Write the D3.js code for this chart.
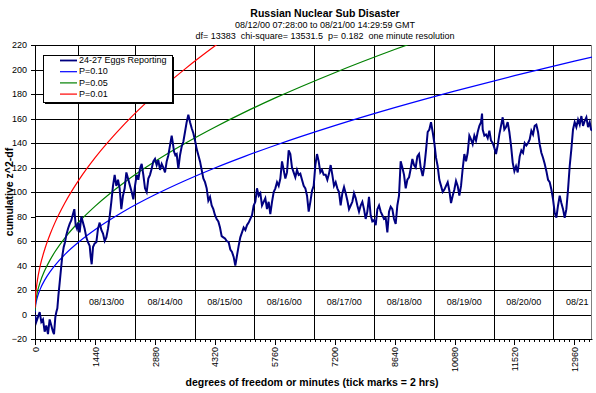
<!DOCTYPE html>
<meta charset="utf-8">

<head>
    <title>Russian Nuclear Sub Disaster</title>
</head>

<style>
    body { margin: 0; background: #fff; }
    text { font-family: "Liberation Sans", Arial, sans-serif; fill: #000; }
</style>

<body>
    <svg></svg>

    <script src="https://cdnjs.cloudflare.com/ajax/libs/d3/7.8.5/d3.min.js"></script>
    <script>

        // Data (minutes since 08/12/00 07:28 GMT, cumulative z^2 - df)
        var eggMinutes = [0, 32, 72, 112, 152, 192, 232, 272, 312, 352, 392, 432, 457, 489, 513, 537, 561, 593, 633, 657, 689, 721, 753, 793, 833, 873, 913, 945, 977, 1009, 1041, 1073, 1113, 1153, 1193, 1233, 1273, 1314, 1338, 1362, 1394, 1434, 1474, 1514, 1554, 1594, 1634, 1674, 1714, 1754, 1794, 1834, 1874, 1914, 1954, 1994, 2034, 2074, 2114, 2155, 2195, 2235,
            2283, 2323, 2363, 2403, 2443, 2483, 2523, 2563, 2603, 2643, 2683, 2723, 2763, 2803, 2843, 2883, 2923, 2963, 3004, 3044, 3084, 3124, 3164, 3204, 3244, 3284, 3308, 3340, 3372, 3404, 3444, 3484, 3524, 3564, 3604, 3644, 3684, 3725, 3765, 3805, 3845, 3885, 3925, 3965, 4005, 4045, 4085, 4125, 4165, 4205, 4245, 4285, 4325, 4365, 4405, 4445, 4485, 4525, 4565, 4606,
            4653, 4693, 4733, 4773, 4813, 4853, 4893, 4933, 4974, 5014, 5054, 5094, 5134, 5174, 5214, 5254, 5294, 5334, 5374, 5414, 5454, 5494, 5534, 5574, 5614, 5654, 5695, 5735, 5775, 5815, 5855, 5895, 5935, 5975, 6015, 6055, 6095, 6135, 6175, 6215, 6255, 6295, 6335, 6375, 6415, 6456, 6496, 6536, 6576, 6616, 6656, 6696, 6736, 6776, 6816, 6856, 6896, 6936,
            6984, 7024, 7064, 7104, 7144, 7184, 7224, 7264, 7304, 7344, 7385, 7425, 7465, 7505, 7545, 7585, 7625, 7665, 7705, 7745, 7785, 7825, 7865, 7905, 7945, 7985, 8025, 8065, 8105, 8146, 8186, 8226, 8266, 8306, 8346, 8386, 8426, 8466, 8506, 8546, 8586, 8626, 8666, 8706, 8746, 8786, 8826, 8867, 8907, 8947, 8987, 9027, 9067, 9107, 9147, 9187, 9227, 9267,
            9315, 9355, 9395, 9435, 9475, 9515, 9555, 9595, 9635, 9675, 9715, 9756, 9796, 9836, 9876, 9916, 9956, 9996, 10036, 10076, 10116, 10156, 10196, 10236, 10276, 10316, 10356, 10396, 10436, 10476, 10516, 10556, 10596, 10637, 10677, 10717, 10741, 10757, 10797, 10837, 10877, 10917, 10957, 10997, 11037, 11077, 11117, 11157, 11197, 11237, 11277, 11317, 11357, 11397, 11437, 11478, 11518, 11558, 11598,
            11646, 11686, 11726, 11766, 11806, 11846, 11886, 11926, 11966, 12006, 12046, 12086, 12126, 12166, 12206, 12246, 12287, 12327, 12367, 12407, 12447, 12487, 12527, 12567, 12607, 12647, 12687, 12727, 12767, 12807, 12847, 12887, 12927, 12967, 13007, 13048, 13088, 13128, 13168, 13208, 13248, 13288, 13328, 13360, 13383];
        var eggValues = [0, -6, -2, 2, -6, -4, -14, -9, -16, -4, -9, -14, -16, -2, 2, 5, 15, 26, 40, 48, 55, 59, 65, 70, 74, 77, 82, 86, 73, 70, 75, 67, 80, 75, 70, 63, 59, 56, 47, 41, 55, 58, 59, 70, 75, 69, 66, 60, 63, 70, 80, 92, 105, 114, 105, 110, 103, 86, 97, 103, 116, 111,
            105, 100, 94, 105, 114, 110, 119, 123, 114, 103, 100, 111, 114, 119, 125, 127, 122, 126, 118, 123, 120, 116, 125, 130, 138, 146, 141, 133, 130, 131, 119, 130, 137, 141, 149, 157, 163, 157, 152, 148, 142, 135, 130, 125, 118, 111, 108, 103, 93, 96, 89, 86, 81, 78, 76, 71, 64, 63, 62, 60,
            59, 53, 51, 47, 40, 48, 56, 63, 67, 71, 69, 73, 75, 78, 81, 89, 92, 103, 97, 99, 89, 92, 95, 86, 92, 82, 92, 100, 103, 108, 105, 111, 125, 118, 111, 116, 134, 131, 120, 116, 112, 118, 114, 115, 110, 105, 103, 97, 84, 92, 101, 105, 122, 131, 125, 116, 118, 114,
            114, 110, 115, 122, 114, 105, 108, 103, 100, 89, 99, 104, 99, 93, 86, 89, 92, 99, 95, 89, 84, 89, 92, 86, 78, 84, 96, 81, 76, 77, 73, 86, 89, 84, 81, 78, 79, 67, 84, 88, 86, 78, 74, 89, 97, 125, 120, 114, 103, 110, 112, 119, 127, 122, 120, 129, 131, 120,
            113, 121, 134, 149, 151, 157, 149, 140, 128, 121, 110, 105, 100, 102, 105, 108, 101, 91, 97, 102, 109, 105, 97, 105, 119, 131, 125, 132, 146, 143, 139, 146, 142, 149, 154, 157, 164, 151, 146, 147, 144, 150, 142, 140, 136, 131, 138, 147, 154, 161, 151, 153, 157, 149, 138, 124, 117, 121, 116,
            129, 134, 132, 140, 138, 140, 143, 150, 147, 154, 155, 149, 139, 132, 128, 123, 117, 110, 108, 102, 94, 83, 79, 89, 97, 91, 86, 79, 86, 102, 121, 135, 151, 157, 153, 159, 155, 162, 154, 158, 161, 153, 157, 151, 150];

        // Significance curves
        var refMinutes = [1, 15, 30, 60, 120, 240, 360, 480, 720, 1080, 1440, 2160, 2880, 3600, 4320, 5040, 5760, 7200, 8640, 10080, 11520, 12960, 13383];
        var p10Values = [1.7, 7.4, 10.4, 14.5, 20.3, 28.5, 34.8, 40.1, 49.1, 60.0, 69.2, 84.7, 97.7, 109.2, 119.6, 129.1, 138.0, 154.2, 168.9, 182.4, 195.0, 206.8, 210.1];
        var p05Values = [2.8, 10.0, 13.6, 18.8, 26.0, 36.4, 44.4, 51.2, 62.6, 76.5, 88.3, 108.2, 124.9, 139.6, 152.9, 165.2, 176.6, 197.4, 216.3, 233.6];
        var p01Values = [5.6, 15.7, 20.9, 28.4, 39.0, 53.9, 65.3, 75.0, 91.2, 111.1, 127.8, 155.8, 179.5, 200.3, 219.1, 236.5];

        var yTicks = [-20, 0, 20, 40, 60, 80, 100, 120, 140, 160, 180, 200, 220];
        var xTicks = [0, 1440, 2880, 4320, 5760, 7200, 8640, 10080, 11520, 12960];

        // Day boundaries (vertical grid) and the date labels between them
        var dayBreaks = [1033, 2403, 3844, 5269, 6711, 8146, 9594, 11036, 12454];
        var dayLabels = ["08/13/00", "08/14/00", "08/15/00", "08/16/00", "08/17/00", "08/18/00", "08/19/00", "08/20/00", "08/21"];
        var dayLabelCenters = [1718, 3124, 4557, 5990, 7429, 8870, 10315, 11745, 13026];

        var legendNames = ["24-27 Eggs Reporting", "P=0.10", "P=0.05", "P=0.01"];
        var legendColors = ["#000080", "#0000ff", "#008000", "#ff0000"];

        // Configuration
        var width = 596;
        var height = 393;
        var plotLeft = 35, plotRight = 592, plotTop = 45, plotBottom = 339;

        var svg = d3.select('svg')
            .attr('width', width)
            .attr('height', height);

        var x = d3.scaleLinear().domain([0, 13383]).range([plotLeft, plotRight]);
        var y = d3.scaleLinear().domain([-20, 220]).range([plotBottom, plotTop]);
        var px = v => Math.round(x(v)) + 0.5;
        var py = v => Math.round(y(v)) + 0.5;

        svg.append('defs').append('clipPath').attr('id', 'plot')
            .append('rect')
            .attr('x', plotLeft).attr('y', plotTop)
            .attr('width', plotRight - plotLeft).attr('height', plotBottom - plotTop + 1);

        // Plot border (grey), then grid
        svg.append('rect')
            .attr('x', plotLeft + 0.5).attr('y', plotTop + 0.5)
            .attr('width', plotRight - plotLeft - 1).attr('height', plotBottom - plotTop)
            .attr('fill', 'none')
            .attr('stroke', '#808080');

        svg.append('g')
            .selectAll('line')
            .data(yTicks)
            .enter()
            .append('line')
            .attr('x1', plotLeft).attr('x2', plotRight - 1)
            .attr('y1', py).attr('y2', py)
            .attr('stroke', '#000')
            .attr('shape-rendering', 'crispEdges');

        svg.append('g')
            .selectAll('line')
            .data(dayBreaks)
            .enter()
            .append('line')
            .attr('x1', px).attr('x2', px)
            .attr('y1', plotTop).attr('y2', plotBottom)
            .attr('stroke', '#000')
            .attr('shape-rendering', 'crispEdges');

        // Date labels
        svg.append('g')
            .selectAll('text')
            .data(dayLabels)
            .enter()
            .append('text')
            .attr('x', (d, i) => x(dayLabelCenters[i]))
            .attr('y', y(10))
            .attr('dy', '0.35em')
            .attr('text-anchor', 'middle')
            .attr('font-size', 9)
            .text(d => d);

        // Axes
        var yAxis = svg.append('g')
            .attr('transform', `translate(${plotLeft},0)`)
            .call(d3.axisLeft(y).tickValues(yTicks).tickSize(4).tickPadding(4).tickSizeOuter(0));
        yAxis.select('.domain').attr('stroke', '#000');
        yAxis.selectAll('text').attr('font-size', 9).attr('font-family', '"Liberation Sans", Arial, sans-serif');

        var xMinor = svg.append('g')
            .attr('transform', `translate(0,${plotBottom})`)
            .call(d3.axisBottom(x).tickValues(d3.range(0, 13383, 120)).tickSize(3).tickFormat('').tickSizeOuter(0));
        xMinor.select('.domain').remove();

        var xAxis = svg.append('g')
            .attr('transform', `translate(0,${plotBottom})`)
            .call(d3.axisBottom(x).tickValues(xTicks).tickFormat(d3.format('d')).tickSize(6).tickSizeOuter(0));
        xAxis.select('.domain').attr('stroke', '#000');
        xAxis.selectAll('text')
            .attr('font-size', 9)
            .attr('font-family', '"Liberation Sans", Arial, sans-serif')
            .attr('transform', 'rotate(-90)')
            .attr('x', -8)
            .attr('y', 0)
            .attr('dy', '0.35em')
            .attr('text-anchor', 'end');
        svg.selectAll('.tick line').attr('shape-rendering', 'crispEdges');

        // Series
        var plot = svg.append('g').attr('clip-path', 'url(#plot)');

        var curve = d3.line()
            .curve(d3.curveMonotoneX)
            .x(d => x(d[0]))
            .y(d => y(d[1]));

        var refSeries = [
            [p10Values, '#0000ff'],
            [p05Values, '#008000'],
            [p01Values, '#ff0000'],
        ];
        refSeries.forEach(([vals, color]) => {
            plot.append('path')
                .attr('d', curve(vals.map((v, i) => [refMinutes[i], v])))
                .attr('fill', 'none')
                .attr('stroke', color)
                .attr('stroke-width', 1.2);
        });

        var jagged = d3.line()
            .x(d => x(d[0]))
            .y(d => y(d[1]));

        plot.append('path')
            .attr('d', jagged(eggValues.map((v, i) => [eggMinutes[i], v])))
            .attr('fill', 'none')
            .attr('stroke', '#000080')
            .attr('stroke-width', 2)
            .attr('stroke-linejoin', 'miter');

        // Legend
        var legend = svg.append('g').attr('transform', 'translate(43,55)');
        legend.append('rect')
            .attr('x', 2).attr('y', 2)
            .attr('width', 129).attr('height', 47)
            .attr('fill', '#000');
        legend.append('rect')
            .attr('x', 0.5).attr('y', 0.5)
            .attr('width', 129).attr('height', 47)
            .attr('fill', '#fff')
            .attr('stroke', '#000');
        var rows = legend.selectAll('g.row')
            .data(legendNames)
            .enter()
            .append('g')
            .attr('class', 'row')
            .attr('transform', (d, i) => `translate(0,${5 + i * 11.2})`);
        rows.append('line')
            .attr('x1', 17).attr('x2', 34)
            .attr('y1', 0.5).attr('y2', 0.5)
            .attr('stroke', (d, i) => legendColors[i])
            .attr('stroke-width', (d, i) => i === 0 ? 1.8 : 1.2);
        rows.append('text')
            .attr('x', 36)
            .attr('dy', '0.35em')
            .attr('font-size', 9)
            .text(d => d);

        // Titles
        svg.append('text')
            .attr('x', 325).attr('y', 13)
            .attr('dy', '0.35em')
            .attr('text-anchor', 'middle')
            .attr('font-size', 10.5)
            .attr('font-weight', 'bold')
            .text('Russian Nuclear Sub Disaster');
        svg.append('text')
            .attr('x', 325).attr('y', 25)
            .attr('dy', '0.35em')
            .attr('text-anchor', 'middle')
            .attr('font-size', 9)
            .text('08/12/00 07:28:00 to 08/21/00 14:29:59 GMT');
        svg.append('text')
            .attr('x', 325).attr('y', 36)
            .attr('dy', '0.35em')
            .attr('text-anchor', 'middle')
            .attr('font-size', 9)
            .style('white-space', 'pre')
            .text('df= 13383  chi-square= 13531.5  p= 0.182  one minute resolution');

        svg.append('text')
            .attr('x', 312).attr('y', 382)
            .attr('dy', '0.35em')
            .attr('text-anchor', 'middle')
            .attr('font-size', 10.5)
            .attr('font-weight', 'bold')
            .text('degrees of freedom or minutes (tick marks = 2 hrs)');
        svg.append('text')
            .attr('transform', 'translate(9,192) rotate(-90)')
            .attr('dy', '0.35em')
            .attr('text-anchor', 'middle')
            .attr('font-size', 10.5)
            .attr('font-weight', 'bold')
            .text('cumulative z^2-df');

    </script>
</body>

</html>
